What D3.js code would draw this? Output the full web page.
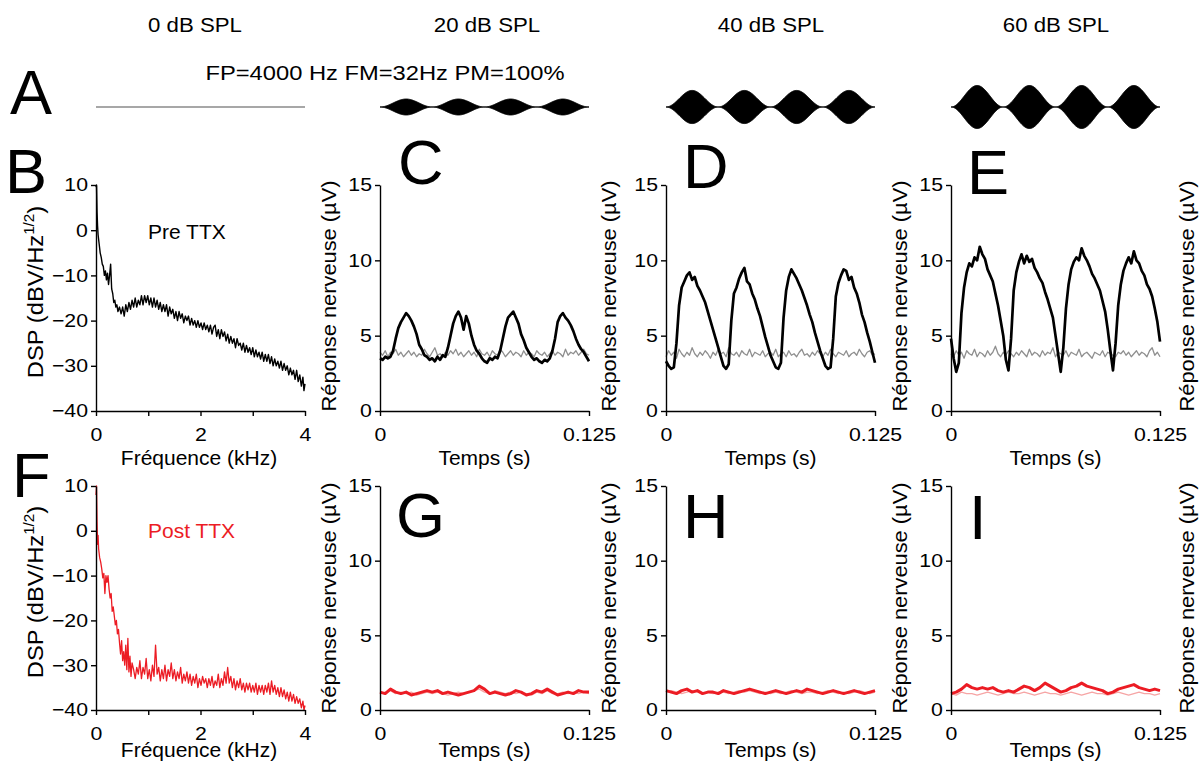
<!DOCTYPE html>
<html><head><meta charset="utf-8">
<script src="https://cdn.jsdelivr.net/npm/d3@7"></script>
<style>body{margin:0;background:#fff}svg{display:block}</style>
</head><body>
<svg id="chart" width="1200" height="772"></svg>
<script>
// ---------------- DATA ----------------
const levels = ["0 dB SPL", "20 dB SPL", "40 dB SPL", "60 dB SPL"];
const stimulusText = "FP=4000 Hz FM=32Hz PM=100%";
const stimFM = 32;            // Hz (modulation frequency)
const stimPM = 1.0;           // 100 % modulation depth
const stimAmplitude = [0, 0.37, 0.77, 1.0]; // relative envelope amplitude per level

const freqTicks = [0, 1, 2, 3, 4];
const freqTickLabels = ["0", "", "2", "", "4"];
const dspTicks = [-40, -30, -20, -10, 0, 10];
const timeTicks = [0, 0.125];
const timeTickLabels = ["0", "0.125"];
const respTicks = [0, 5, 10, 15];

// Pre TTX spectrum [kHz, dB]
const specPre = [[0.00,9.5],[0.01,10],[0.02,4],[0.03,1],[0.04,-1],[0.06,-3],[0.08,-5],[0.10,-6],[0.12,-7.5],[0.14,-8],[0.16,-10],[0.18,-9],[0.20,-11],[0.22,-9.5],[0.24,-12],[0.26,-10],[0.28,-7.5],[0.30,-13],[0.32,-14],[0.34,-16],[0.36,-15.5],[0.38,-17],[0.40,-16.5],[0.42,-18],[0.45,-17],[0.48,-18.5],[0.51,-17],[0.54,-19],[0.57,-16.5],[0.60,-18],[0.63,-16],[0.66,-17.5],[0.69,-15.5],[0.72,-17],[0.75,-15],[0.78,-17],[0.81,-15.5],[0.84,-16.5],[0.87,-14.5],[0.90,-16.5],[0.93,-14.5],[0.96,-16],[0.99,-14.5],[1.02,-16.5],[1.05,-15],[1.08,-17],[1.11,-15],[1.14,-17],[1.17,-15.5],[1.20,-17.5],[1.23,-16],[1.26,-18],[1.29,-16.5],[1.32,-18],[1.35,-16.5],[1.38,-19],[1.41,-17],[1.44,-18.5],[1.47,-17.5],[1.50,-19.5],[1.53,-18],[1.56,-20],[1.59,-18],[1.62,-19.5],[1.65,-18.5],[1.68,-20.5],[1.71,-19],[1.74,-20],[1.77,-19],[1.80,-21],[1.83,-19.5],[1.86,-21],[1.89,-20],[1.92,-21.5],[1.95,-20],[1.98,-21.5],[2.01,-20.5],[2.04,-22],[2.07,-20.5],[2.10,-22],[2.13,-21],[2.16,-22.5],[2.19,-21],[2.22,-23],[2.25,-21.5],[2.28,-21],[2.31,-23.5],[2.34,-22],[2.37,-24],[2.40,-22],[2.43,-23.5],[2.46,-22.5],[2.49,-24.5],[2.52,-23],[2.55,-25],[2.58,-23.5],[2.61,-25],[2.64,-24],[2.67,-26],[2.70,-24],[2.73,-25.5],[2.76,-25],[2.79,-26.5],[2.82,-25],[2.85,-27],[2.88,-25.5],[2.91,-27],[2.94,-26],[2.97,-27.5],[3.00,-26],[3.03,-28],[3.06,-26.5],[3.09,-28],[3.12,-27],[3.15,-28.5],[3.18,-27],[3.21,-29],[3.24,-27.5],[3.27,-29],[3.30,-27.5],[3.33,-29.5],[3.36,-28],[3.39,-30],[3.42,-28.5],[3.45,-30],[3.48,-29],[3.51,-30.5],[3.54,-29],[3.57,-31],[3.60,-29.5],[3.63,-31],[3.66,-30],[3.69,-32],[3.72,-30.5],[3.75,-32],[3.78,-31],[3.81,-33],[3.84,-31],[3.87,-33.5],[3.90,-32],[3.93,-34.5],[3.96,-32.5],[3.98,-35.5],[4.00,-34]];

// Post TTX spectrum [kHz, dB]
const specPost = [[0.00,8],[0.01,10],[0.02,2],[0.03,-3],[0.04,-1],[0.05,-4],[0.07,-6],[0.09,-7],[0.11,-8.5],[0.13,-10.5],[0.15,-9.5],[0.17,-14],[0.19,-10],[0.21,-11.5],[0.23,-10],[0.25,-13],[0.27,-15],[0.29,-14],[0.31,-18],[0.33,-17],[0.35,-19],[0.37,-21],[0.39,-20],[0.41,-23],[0.43,-22],[0.45,-25],[0.47,-27.5],[0.49,-24.5],[0.51,-29],[0.53,-27],[0.55,-30],[0.57,-25.5],[0.59,-31],[0.61,-24],[0.63,-31.5],[0.65,-28],[0.67,-32.5],[0.69,-29.5],[0.72,-31],[0.75,-33],[0.78,-30.5],[0.81,-32],[0.84,-29],[0.87,-33],[0.90,-30.5],[0.93,-32],[0.96,-28.5],[0.99,-33],[1.02,-31],[1.05,-33.5],[1.08,-30],[1.11,-32.5],[1.14,-25.5],[1.17,-32],[1.20,-30.5],[1.23,-33.5],[1.26,-31],[1.29,-33],[1.32,-30],[1.35,-33.5],[1.38,-31],[1.41,-32.5],[1.44,-29.5],[1.47,-33],[1.50,-31],[1.53,-33.5],[1.56,-31.5],[1.59,-33],[1.62,-30.5],[1.65,-34],[1.68,-32],[1.71,-33.5],[1.74,-31.5],[1.77,-34],[1.80,-32],[1.83,-34.5],[1.86,-32.5],[1.89,-34],[1.92,-32],[1.95,-35],[1.98,-33],[2.01,-34.5],[2.04,-32.5],[2.07,-34],[2.10,-33],[2.13,-35],[2.16,-33],[2.19,-34.5],[2.22,-32.5],[2.25,-35],[2.28,-33.5],[2.31,-34.5],[2.34,-32],[2.37,-35],[2.40,-33],[2.43,-34.5],[2.46,-31.5],[2.49,-34],[2.52,-30.5],[2.55,-34],[2.58,-32.5],[2.61,-35],[2.64,-33],[2.67,-35.5],[2.70,-33.5],[2.73,-35],[2.76,-33],[2.79,-35.5],[2.82,-34],[2.85,-36],[2.88,-34],[2.91,-35.5],[2.94,-34],[2.97,-36],[3.00,-34.5],[3.03,-36],[3.06,-34],[3.09,-36.5],[3.12,-34.5],[3.15,-36],[3.18,-34.5],[3.21,-36.5],[3.24,-34.5],[3.27,-36],[3.30,-34],[3.33,-36.5],[3.36,-33.5],[3.39,-36],[3.42,-34.5],[3.45,-36.5],[3.48,-35],[3.51,-37],[3.54,-35],[3.57,-37],[3.60,-35.5],[3.63,-37.5],[3.66,-36],[3.69,-38],[3.72,-36],[3.75,-38],[3.78,-36.5],[3.81,-38.5],[3.84,-37],[3.87,-38.5],[3.90,-37.5],[3.93,-39.5],[3.96,-38],[3.98,-40],[4.00,-39]];

// Responses, pre TTX (81 samples over 0..0.125 s), µV
const respC = [3.5,3.4,3.6,3.5,3.6,4.0,4.8,5.5,5.9,6.2,6.5,6.3,6.0,5.6,5.1,4.4,4.1,3.7,3.6,3.4,3.5,3.3,3.6,3.4,3.7,3.6,4.2,5.0,5.8,6.3,6.6,6.2,5.4,6.3,5.8,5.0,4.4,4.0,3.8,3.5,3.3,3.2,3.5,3.4,3.6,3.5,4.0,4.8,5.6,6.2,6.4,6.6,6.2,5.8,5.1,4.7,4.2,3.9,3.6,3.4,3.5,3.3,3.2,3.4,3.3,3.5,4.0,4.8,5.9,6.3,6.5,6.2,6.0,5.7,5.3,4.8,4.4,4.1,3.9,3.6,3.3];
const respD = [3.3,3.0,2.8,2.9,4.5,7.0,8.2,8.6,9.0,9.2,8.7,8.9,8.3,8.0,7.6,7.2,6.6,6.0,5.4,4.8,4.2,3.6,3.0,2.8,3.1,6.0,7.8,8.2,8.8,9.2,9.5,8.6,8.4,7.8,7.4,6.8,6.3,5.6,4.9,4.3,3.7,3.3,2.9,2.8,3.2,6.2,8.0,8.9,9.4,9.1,8.8,8.4,8.0,7.5,7.0,6.4,5.9,5.2,4.6,4.0,3.5,3.0,2.8,2.9,4.8,7.6,8.5,9.0,9.4,9.3,8.7,8.9,8.2,7.8,7.2,6.4,5.9,5.2,4.6,3.9,3.2];
const respE = [4.8,3.5,2.6,3.2,6.5,8.2,9.2,9.8,9.6,10.2,10.0,10.9,10.4,10.1,9.4,9.0,8.6,7.8,7.0,6.0,5.0,3.4,2.7,4.8,8.0,9.2,9.9,10.4,9.8,10.3,9.9,10.1,9.5,9.2,8.8,8.5,7.9,7.4,6.8,6.2,5.0,3.8,2.6,4.2,6.8,8.4,9.4,9.9,10.2,10.0,10.8,10.3,10.0,9.6,9.1,8.8,8.4,8.0,7.3,6.6,5.4,4.0,2.7,4.5,7.0,8.4,9.3,9.8,10.2,9.8,10.6,10.0,9.8,9.3,9.0,8.4,8.1,7.6,6.8,5.9,4.6];
// Spontaneous activity (no stimulus), pre TTX
const baseC = [3.9,3.7,4.0,3.6,3.9,3.8,4.1,3.7,3.9,3.6,3.8,4.0,3.7,3.9,3.6,3.8,3.7,4.1,3.8,3.6,3.9,4.2,3.7,3.8,3.6,3.9,3.7,4.0,3.8,4.1,3.7,3.9,3.6,3.8,4.0,3.7,3.9,3.6,4.1,3.8,3.7,3.9,3.6,4.0,3.8,3.7,4.1,3.9,3.6,3.8,4.0,3.7,3.9,3.8,3.6,4.0,3.7,3.9,3.8,3.6,4.0,3.8,3.7,3.9,3.6,3.8,4.0,3.7,3.9,3.8,3.6,4.1,3.7,3.9,3.8,4.0,3.7,3.9,4.1,3.8,3.7];
const baseD = [3.6,4.0,3.7,3.9,3.5,4.1,3.8,3.6,3.9,3.7,4.2,3.8,3.6,3.9,3.7,4.0,3.8,3.5,3.9,3.7,4.1,3.8,3.9,3.6,4.2,3.8,3.7,3.9,3.6,4.0,3.8,3.7,4.1,3.6,3.9,3.8,3.7,4.0,3.6,3.8,3.9,3.7,4.1,3.6,3.8,3.9,3.6,4.0,3.7,3.8,3.6,3.9,4.1,3.7,3.8,3.6,3.9,3.7,4.0,3.8,3.6,3.9,3.7,4.1,3.8,3.6,3.9,3.8,3.7,4.0,3.6,3.8,3.9,3.7,4.1,3.8,3.6,3.9,4.0,3.7,3.8];
const baseE = [3.8,3.6,4.0,3.7,3.9,3.5,4.0,3.8,3.7,4.1,3.6,3.9,3.8,3.6,4.0,3.7,3.9,4.3,3.8,3.6,3.9,3.7,4.0,3.8,3.6,3.9,3.7,4.0,3.8,3.6,4.1,3.7,3.9,3.8,3.6,4.0,3.7,3.9,3.8,4.2,3.6,3.9,3.8,3.7,4.0,3.6,3.9,3.8,3.7,4.1,3.6,3.8,3.9,3.7,3.5,3.9,3.8,3.7,4.0,3.6,3.9,3.8,3.7,3.6,3.9,3.8,4.0,3.7,3.9,3.6,3.8,4.0,3.7,3.9,3.8,3.6,4.0,4.2,3.7,3.9,3.6];

// Responses, post TTX (41 samples over 0..0.125 s), µV
const respG = [1.2,1.1,1.4,1.2,1.1,1.2,1.0,1.1,1.2,1.3,1.2,1.3,1.1,1.2,1.1,1.0,1.1,1.2,1.3,1.6,1.4,1.1,1.2,1.1,1.0,1.1,1.3,1.2,1.0,1.1,1.3,1.2,1.4,1.2,1.0,1.1,1.2,1.1,1.3,1.2,1.2];
const respH = [1.3,1.2,1.1,1.3,1.4,1.2,1.3,1.1,1.2,1.2,1.1,1.3,1.2,1.1,1.2,1.3,1.4,1.3,1.2,1.1,1.2,1.3,1.2,1.1,1.2,1.3,1.2,1.4,1.3,1.2,1.1,1.2,1.3,1.2,1.1,1.2,1.3,1.2,1.1,1.2,1.3];
const respI = [1.1,1.2,1.4,1.7,1.5,1.4,1.5,1.4,1.5,1.3,1.2,1.3,1.2,1.4,1.6,1.5,1.3,1.5,1.8,1.6,1.4,1.2,1.3,1.5,1.6,1.8,1.6,1.5,1.4,1.3,1.1,1.2,1.4,1.5,1.6,1.7,1.5,1.4,1.3,1.4,1.3];
const baseG = [1.1,1.2,1.3,1.1,1.2,1.1,1.2,1.0,1.1,1.2,1.1,1.2,1.1,1.0,1.1,1.2,1.1,1.2,1.3,1.4,1.2,1.1,1.3,1.2,1.1,1.2,1.1,1.2,1.1,1.0,1.2,1.1,1.3,1.1,1.1,1.2,1.1,1.2,1.1,1.2,1.1];
const baseH = [1.2,1.3,1.2,1.1,1.2,1.3,1.2,1.1,1.2,1.1,1.2,1.2,1.1,1.2,1.3,1.2,1.3,1.2,1.1,1.2,1.1,1.2,1.1,1.2,1.3,1.2,1.1,1.2,1.2,1.1,1.2,1.3,1.2,1.1,1.2,1.1,1.2,1.3,1.2,1.1,1.2];
const baseI = [1.1,1.0,1.2,1.1,1.1,1.0,1.1,1.2,1.1,1.0,1.1,1.2,1.1,1.1,1.2,1.1,1.0,1.1,1.2,1.1,1.1,1.0,1.1,1.2,1.1,1.0,1.1,1.2,1.1,1.1,1.0,1.1,1.2,1.1,1.0,1.1,1.2,1.1,1.1,1.0,1.1];

// ---------------- DRAWING ----------------
const FONT = "'Liberation Sans', Arial, Helvetica, sans-serif";
const svg = d3.select('#chart');
const BLACK = '#000', GRAY = '#8f8f8f', RED = '#ec1c24', PINK = '#f6a5a5';

const colX = [[96, 305], [380, 589], [666, 875], [951, 1160]];
const rowY = [[411, 185], [710, 486]];
const TMAX = 0.125;
const TICK_SX = 1.15;

function txt(sel, x, y, s, o = {}) {
  const t = sel.append('text')
    .attr('transform', `translate(${x},${y}) rotate(${o.rotate || 0}) scale(${o.sx || 1},1)`)
    .attr('text-anchor', o.anchor || 'start')
    .attr('font-family', FONT)
    .attr('font-size', o.size || 20)
    .attr('fill', o.fill || '#000');
  t.text(s);
  return t;
}

function styleAxis(g) {
  g.select('.domain').attr('stroke', '#000').attr('stroke-width', 1.4);
  g.selectAll('.tick line').attr('stroke', '#000').attr('stroke-width', 1.4);
  g.selectAll('.tick text').attr('font-family', FONT).attr('font-size', 18.5).attr('fill', '#000')
    .attr('transform', `scale(${TICK_SX},1)`);
}

function makePanel(col, row, xDomain, yDomain, xTicks, xLabels, yTicks) {
  const x = d3.scaleLinear().domain(xDomain).range(colX[col]);
  const y = d3.scaleLinear().domain(yDomain).range(rowY[row]);
  const g = svg.append('g');
  const ax = g.append('g').attr('transform', `translate(0,${rowY[row][0]})`)
    .call(d3.axisBottom(x).tickValues(xTicks).tickFormat((d, i) => xLabels[i]).tickSize(5).tickSizeOuter(0).tickPadding(12));
  styleAxis(ax);
  const ay = g.append('g').attr('transform', `translate(${colX[col][0]},0)`)
    .call(d3.axisLeft(y).tickValues(yTicks).tickFormat(d3.format('d')).tickSize(5).tickSizeOuter(0).tickPadding(2));
  styleAxis(ay);
  return { g, x, y };
}

function drawLine(p, pts, color, width) {
  p.g.insert('path', 'g').datum(pts)
    .attr('fill', 'none').attr('stroke', color).attr('stroke-width', width)
    .attr('stroke-linejoin', 'round')
    .attr('d', d3.line().x(d => p.x(d[0])).y(d => p.y(d[1])));
}

function timeSeries(values) {
  const n = values.length - 1;
  return values.map((v, i) => [i * TMAX / n, v]);
}

// ---- Headers
const headerX = [195, 487, 771, 1056];
levels.forEach((l, i) => txt(svg, headerX[i], 32, l, { anchor: 'middle', size: 21, sx: 1.06 }));
txt(svg, 385, 80, stimulusText, { anchor: 'middle', size: 21, sx: 1.13 });

// ---- Stimulus waveforms (row A)
const stimY = d3.scaleLinear().domain([-1, 1]).range([107 + 21.5, 107 - 21.5]);
levels.forEach((l, i) => {
  const x = d3.scaleLinear().domain([0, TMAX]).range(colX[i]);
  if (stimAmplitude[i] === 0) {
    svg.append('line').attr('x1', x(0)).attr('x2', x(TMAX)).attr('y1', stimY(0)).attr('y2', stimY(0))
      .attr('stroke', '#8a8a8a').attr('stroke-width', 1.6);
    return;
  }
  const ts = d3.range(0, 401).map(k => k * TMAX / 400);
  const env = t => stimAmplitude[i] * (1 - stimPM * Math.cos(2 * Math.PI * stimFM * t)) / 2;
  svg.append('path').datum(ts)
    .attr('fill', '#000').attr('stroke', '#000').attr('stroke-width', 1)
    .attr('d', d3.area().x(t => x(t)).y0(t => stimY(-env(t))).y1(t => stimY(env(t))));
});

// ---- Panel letters
const letters = [['A', 10, 114], ['B', 5, 193], ['C', 398, 184], ['D', 683, 188], ['E', 967, 194],
                 ['F', 12, 497], ['G', 396, 537], ['H', 683, 538], ['I', 969, 539]];
letters.forEach(([s, x, y]) => txt(svg, x, y, s, { size: 63 }));

// ---- Spectra
const pB = makePanel(0, 0, [0, 4], [-40, 10], freqTicks, freqTickLabels, dspTicks);
drawLine(pB, specPre, BLACK, 1.4);
const pF = makePanel(0, 1, [0, 4], [-40, 10], freqTicks, freqTickLabels, dspTicks);
drawLine(pF, specPost, RED, 1.3);
txt(svg, 148, 239, 'Pre TTX', { size: 20, sx: 1.05 });
txt(svg, 148, 538, 'Post TTX', { size: 20, sx: 1.05, fill: RED });

function dspLabel(cx, cy) {
  const t = svg.append('text')
    .attr('transform', `translate(${cx},${cy}) rotate(-90) scale(1.08,1)`)
    .attr('text-anchor', 'middle').attr('font-family', FONT).attr('font-size', 22).attr('fill', '#000');
  t.append('tspan').text('DSP (dBV/Hz');
  t.append('tspan').attr('font-size', 14).attr('dy', -9).text('1/2');
  t.append('tspan').attr('dy', 9).text(')');
}
dspLabel(43, 292);
dspLabel(43, 592);

// ---- Responses
const topResp = [[respC, baseC], [respD, baseD], [respE, baseE]];
const botResp = [[respG, baseG], [respH, baseH], [respI, baseI]];
topResp.forEach(([r, b], i) => {
  const p = makePanel(i + 1, 0, [0, TMAX], [0, 15], timeTicks, timeTickLabels, respTicks);
  drawLine(p, timeSeries(b), GRAY, 1.3);
  drawLine(p, timeSeries(r), BLACK, 2.7);
});
botResp.forEach(([r, b], i) => {
  const p = makePanel(i + 1, 1, [0, TMAX], [0, 15], timeTicks, timeTickLabels, respTicks);
  drawLine(p, timeSeries(b), PINK, 1.3);
  drawLine(p, timeSeries(r), RED, 3);
});

// ---- Axis titles
[0, 1].forEach(row => {
  const base = row === 0 ? 465 : 757;
  txt(svg, 199, base, 'Fréquence (kHz)', { anchor: 'middle', size: 21 });
  [1, 2, 3].forEach(c => txt(svg, (colX[c][0] + colX[c][1]) / 2, base, 'Temps (s)', { anchor: 'middle', size: 21 }));
  const cy = row === 0 ? 296 : 598;
  [336, 616, 907, 1194].forEach(xx => txt(svg, xx, cy, 'Réponse nerveuse (µV)', { anchor: 'middle', size: 21, sx: 1.04, rotate: -90 }));
});
</script>
</body></html>
